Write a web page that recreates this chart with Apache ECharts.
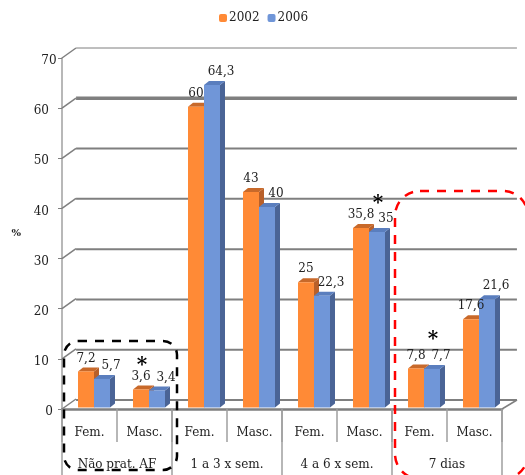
<!DOCTYPE html>
<html><head><meta charset="utf-8">
<style>html,body{margin:0;padding:0;background:#fff}#c{width:525px;height:475px}</style>
<script src="https://cdn.jsdelivr.net/npm/echarts@6/dist/echarts.min.js"></script>
</head><body><div id="c"></div>
<script>
const subCategories = ['Fem.','Masc.','Fem.','Masc.','Fem.','Masc.','Fem.','Masc.'];
const groups = ['Não prat. AF','1 a 3 x sem.','4 a 6 x sem.','7 dias'];
const values2002 = [7.2,3.6,60,43,25,35.8,7.8,17.6];
const values2006 = [5.7,3.4,64.3,40,22.3,35,7.7,21.6];
const labels2002 = ['7,2','3,6','60','43','25','35,8','7,8','17,6'];
const labels2006 = ['5,7','3,4','64,3','40','22,3','35','7,7','21,6'];
const yTicks = [0,10,20,30,40,50,60,70];

const FONT = '"DejaVu Serif", serif';
const TEXT = '#222';
const GREY = '#7f7f7f';
const W = 16, DX = 5, DY = 4, CENTER = 4.5, BASE = 1.5;

function bars(side, front, top, sideCol){
  return function(params, api){
    const i = api.value(0);
    const p = api.coord([i, api.value(1)]);
    const x = p[0] + CENTER + side * W;
    const yt = p[1] - BASE;
    const yb = api.coord([i, 0])[1] - BASE;
    return {type:'group', children:[
      {type:'polygon', shape:{points:[[x+W,yt],[x+W+DX,yt-DY],[x+W+DX,yb-DY],[x+W,yb]]}, style:{fill:sideCol}},
      {type:'polygon', shape:{points:[[x,yt],[x+DX,yt-DY],[x+W+DX,yt-DY],[x+W,yt]]}, style:{fill:top}},
      {type:'rect', shape:{x:x, y:yt, width:W, height:yb-yt}, style:{fill:front}}
    ]};
  };
}
function barLabels(labels, side, labelDx){
  return function(params, api){
    const i = api.value(0);
    const p = api.coord([i, api.value(1)]);
    return {type:'text', style:{x:p[0]+CENTER+side*W+W/2+labelDx, y:p[1]-BASE-13, text:labels[i], fill:TEXT,
      font:'12px '+FONT, align:'center', verticalAlign:'middle'}};
  };
}
function diag(params, api){
  const p = api.coord([0, api.value(0)]);
  const x0 = api.coord([0,0])[0] - 27.5;
  return {type:'line', shape:{x1:x0, y1:p[1], x2:x0+14, y2:p[1]-10},
    style:{stroke:GREY, lineWidth:1.5}};
}
function floorEnd(params, api){
  const p = api.coord([7, 0]);
  const x = p[0] + 27.5;
  return {type:'line', shape:{x1:x, y1:p[1], x2:x+15, y2:p[1]-9}, style:{stroke:GREY, lineWidth:1.5}};
}
function backLine(params, api){
  const v = api.value(0);
  const p = api.coord([0, v]);
  const x0 = p[0] - 27.5;
  const x1 = api.coord([7, v])[0] + 27.5;
  return {type:'line', shape:{x1:x0, y1:p[1], x2:x1, y2:p[1]},
    style:{stroke:GREY, lineWidth: v === 60 ? 3.5 : v === 70 ? 1 : 2}};
}

const chart = echarts.init(document.getElementById('c'));
chart.setOption({
  animation:false,
  backgroundColor:'#fff',
  textStyle:{fontFamily:FONT},
  legend:{data:['2002','2006'], top:7, left:214, itemWidth:8, itemHeight:8, itemGap:8,
    textStyle:{fontFamily:FONT, fontSize:12, color:TEXT, padding:[0,0,0,-3]}},
  grid:[
    {left:62, right:23, top:58, bottom:66},
    {left:76, right:8, top:48, bottom:75}
  ],
  xAxis:[
    {type:'category', gridIndex:0, data:subCategories, position:'bottom', z:5,
      axisLine:{show:true, onZero:false, lineStyle:{color:GREY, width:2.5}},
      axisTick:{show:true, interval:0, length:33, lineStyle:{color:'#a0a0a0', width:1.5}},
      axisLabel:{fontFamily:FONT, fontSize:12, color:TEXT, margin:18, interval:0}},
    {type:'category', gridIndex:0, data:groups, position:'bottom',
      axisLine:{show:false, onZero:false},
      axisTick:{show:true, interval:0, length:66, lineStyle:{color:'#a0a0a0', width:1.5}},
      axisLabel:{fontFamily:FONT, fontSize:12, color:TEXT, margin:50, interval:0}},
    {type:'category', gridIndex:1, data:subCategories, show:false}
  ],
  yAxis:[
    {type:'value', gridIndex:0, min:0, max:70, interval:10, name:'%', nameLocation:'middle',
      nameGap:41, nameRotate:0, nameTextStyle:{fontFamily:FONT, fontSize:10, fontWeight:'bold', color:TEXT, padding:[0,0,4,0]},
      axisLine:{show:true, lineStyle:{color:'#a0a0a0', width:1.5}},
      axisTick:{show:true, length:4, lineStyle:{color:GREY}},
      axisLabel:{fontFamily:FONT, fontSize:12, color:TEXT, margin:13, verticalAlign:'top', padding:[-3,0,0,0], alignMinLabel:'center', alignMaxLabel:'center'},
      splitLine:{show:false}},
    {type:'value', gridIndex:1, min:0, max:70, interval:10, axisLine:{show:false},
      axisTick:{show:false}, axisLabel:{show:false}, splitLine:{show:false}}
  ],
  series:[
    {type:'custom', name:'back', xAxisIndex:2, yAxisIndex:1, data:yTicks.map(v=>[v]),
      encode:{y:0}, renderItem:backLine, silent:true, z:1},
    {type:'custom', name:'diag', xAxisIndex:0, yAxisIndex:0, data:yTicks.map(v=>[v]),
      encode:{y:0}, renderItem:diag, silent:true, z:1},
    {type:'custom', name:'floor', xAxisIndex:0, yAxisIndex:0, data:[[0]],
      encode:{y:0}, renderItem:floorEnd, silent:true, z:1},
    {type:'custom', name:'2002', xAxisIndex:0, yAxisIndex:0, itemStyle:{color:'#FF8A36'},
      data:values2002.map((v,i)=>[i,v]), encode:{x:0,y:1}, z:3,
      renderItem:bars(-1,'#FF8A36','#C8692A','#B8602A')},
    {type:'custom', name:'2006', xAxisIndex:0, yAxisIndex:0, itemStyle:{color:'#7096D8'},
      data:values2006.map((v,i)=>[i,v]), encode:{x:0,y:1}, z:4,
      renderItem:bars(0,'#7096D8','#5A7EBE','#4A6496')},
    {type:'custom', name:'labels2002', xAxisIndex:0, yAxisIndex:0, silent:true,
      data:values2002.map((v,i)=>[i,v]), encode:{x:0,y:1}, z:6,
      renderItem:barLabels(labels2002,-1,0)},
    {type:'custom', name:'labels2006', xAxisIndex:0, yAxisIndex:0, silent:true,
      data:values2006.map((v,i)=>[i,v]), encode:{x:0,y:1}, z:6,
      renderItem:barLabels(labels2006,0,9)}
  ],
  graphic:[
    {type:'rect', z:100, silent:true, shape:{x:64, y:341, width:113, height:129, r:14},
      style:{fill:'none', stroke:'#000', lineWidth:2.5, lineDash:[9,8]}},
    {type:'rect', z:100, silent:true, shape:{x:395, y:191, width:133, height:288, r:25},
      style:{fill:'none', stroke:'#f00', lineWidth:2.5, lineDash:[9,8]}},
    {type:'text', z:100, silent:true, style:{x:142, y:366, text:'*', font:'bold 20px '+FONT, fill:'#000', align:'center', verticalAlign:'middle'}},
    {type:'text', z:100, silent:true, style:{x:378, y:204, text:'*', font:'bold 20px '+FONT, fill:'#000', align:'center', verticalAlign:'middle'}},
    {type:'text', z:100, silent:true, style:{x:433, y:340, text:'*', font:'bold 20px '+FONT, fill:'#000', align:'center', verticalAlign:'middle'}}
  ]
});
</script></body></html>
